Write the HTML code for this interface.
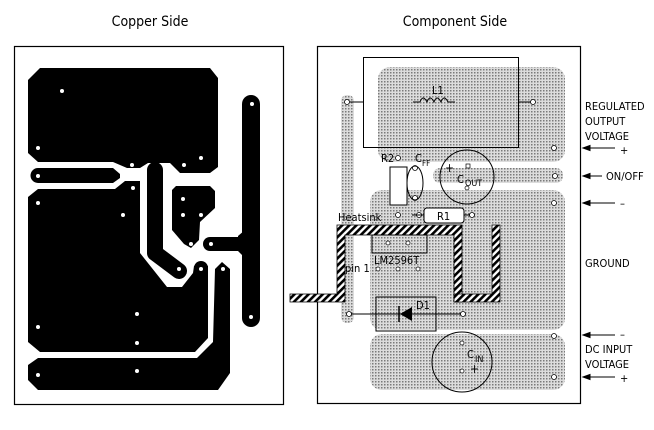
<!DOCTYPE html>
<html><head><meta charset="utf-8"><style>
html,body{margin:0;padding:0;background:#fff;width:654px;height:430px;overflow:hidden}
svg{display:block}
text{font-family:"DejaVu Sans Condensed","Liberation Sans",sans-serif}
</style></head><body>
<svg width="654" height="430" viewBox="0 0 654 430" xmlns="http://www.w3.org/2000/svg">
<defs>
<pattern id="dots" width="3" height="3" patternUnits="userSpaceOnUse">
<rect width="3" height="3" fill="#dcdcdc"/><rect x="0" y="0" width="1.5" height="1.5" fill="#7a7a7a"/>
</pattern>
<pattern id="hatch" width="5" height="5" patternUnits="userSpaceOnUse" patternTransform="rotate(45)">
<rect width="5" height="5" fill="#fff"/><rect width="2.6" height="5" fill="#000"/>
</pattern>
</defs>
<text x="150" y="26" font-size="14" text-anchor="middle">Copper Side</text>
<text x="455" y="26" font-size="14" text-anchor="middle">Component Side</text>

<rect x="14.5" y="46.5" width="269" height="358" fill="#fff" stroke="#000" stroke-width="1.2"/>
<g fill="#000">
<polygon points="40,68 210,68 218,78 218,167 210,173 180,173 170,163 148,163 140,168 127,168 113,162 38,162 28,153 28,80"/>
<path d="M38,168 L113,168 L120,174 L120,178 L113,183 L38,183 A7.5,7.5 0 0 1 38,168Z"/>
<polygon points="38,189 115,189 125,181 140,181 140,253 167,287 182,287 193,273 194,266 208,266 208,338 195,352 40,352 28,342 28,197"/>
<polyline points="155,170 155,253 179,271" fill="none" stroke="#000" stroke-width="16" stroke-linecap="round" stroke-linejoin="round"/>
<polyline points="201,268 201,272" fill="none" stroke="#000" stroke-width="14" stroke-linecap="round"/>
<polygon points="176,186 210,186 215,191 215,208 200,222 199,240 191,248 184,244 172,230 172,190"/>
<line x1="251" y1="104" x2="251" y2="318" stroke="#000" stroke-width="18" stroke-linecap="round"/>
<line x1="210" y1="244" x2="245" y2="244" stroke="#000" stroke-width="14" stroke-linecap="round"/>
<polygon points="238,236 245,230 245,258 238,251"/>
<polygon points="215,269 222,262 230,269 230,373 218,390 38,390 28,380 28,365 38,358 197,358 213,342"/>
</g>
<g fill="#fff">
<circle cx="62" cy="91" r="2"/><circle cx="38" cy="148" r="2"/><circle cx="132" cy="165" r="2"/><circle cx="184" cy="165" r="2"/><circle cx="201" cy="158" r="2"/>
<circle cx="38" cy="176" r="2"/><circle cx="133" cy="188" r="2"/><circle cx="38" cy="203" r="2"/><circle cx="123" cy="215" r="2"/>
<circle cx="183" cy="199" r="2"/><circle cx="183" cy="215" r="2"/><circle cx="201" cy="215" r="2"/><circle cx="191" cy="244" r="2"/>
<circle cx="211" cy="244" r="2"/><circle cx="252" cy="104" r="2"/><circle cx="251" cy="317" r="2"/>
<circle cx="179" cy="269" r="2"/><circle cx="201" cy="269" r="2"/><circle cx="223" cy="269" r="2"/>
<circle cx="137" cy="314" r="2"/><circle cx="38" cy="327" r="2"/><circle cx="137" cy="343" r="2"/><circle cx="137" cy="371" r="2"/><circle cx="38" cy="375" r="2"/>
</g>

<rect x="317.5" y="46.5" width="263" height="357" fill="#fff" stroke="#000" stroke-width="1.2"/>
<g fill="url(#dots)">
<rect x="378" y="67" width="187" height="95" rx="12"/>
<rect x="341" y="95" width="13" height="228" rx="6"/>
<rect x="433" y="168" width="130" height="15" rx="7"/>
<rect x="370" y="190" width="195" height="140" rx="12"/>
<rect x="370" y="334" width="195" height="56" rx="12"/>
</g>
<rect x="363.5" y="57.5" width="155" height="90" fill="none" stroke="#000"/>
<text x="432" y="94" font-size="11">L1</text>
<path d="M420,102 q3,-8 7,0 q3,-8 7,0 q3,-8 7,0 q3,-8 7,0 M413,102 h7 M448,102 h7" fill="none" stroke="#000"/>
<line x1="350" y1="102" x2="363" y2="102" stroke="#000"/><line x1="518" y1="102" x2="533" y2="102" stroke="#000"/>
<g fill="#fff" stroke="#000" stroke-width="0.8">
<circle cx="347" cy="102" r="2.5"/><circle cx="533" cy="102" r="2.5"/><circle cx="554" cy="148" r="2.5"/><circle cx="555" cy="176" r="2.5"/><circle cx="554" cy="203" r="2.5"/>
<circle cx="398" cy="158" r="2.5"/><circle cx="398" cy="215" r="2.5"/><circle cx="415" cy="168" r="2.5"/><circle cx="415" cy="198" r="2.5"/>
<circle cx="419" cy="215" r="2.5"/><circle cx="472" cy="215" r="2.5"/>
<circle cx="349" cy="314" r="2.5"/><circle cx="463" cy="314" r="2.5"/><circle cx="554" cy="336" r="2.5"/><circle cx="554" cy="377" r="2.5"/>
</g>
<circle cx="467" cy="177" r="27" fill="none" stroke="#000"/>
<text x="445" y="172" font-size="12">+</text>
<text x="457" y="183" font-size="11">C</text><text x="465" y="186" font-size="9">OUT</text>
<rect x="466" y="164" width="4" height="4" fill="#fff" stroke="#000" stroke-width="0.7"/>
<circle cx="467" cy="188" r="2" fill="#fff" stroke="#000" stroke-width="0.7"/>
<circle cx="462" cy="362" r="30" fill="none" stroke="#000"/>
<text x="467" y="358" font-size="11">C</text><text x="475" y="362" font-size="9">IN</text>
<text x="470" y="373" font-size="12">+</text>
<circle cx="462" cy="343" r="2" fill="#fff" stroke="#000" stroke-width="0.7"/>
<circle cx="462" cy="371" r="2" fill="#fff" stroke="#000" stroke-width="0.7"/>
<text x="381" y="162" font-size="11">R2</text>
<text x="415" y="162" font-size="11">C</text><text x="422" y="166" font-size="8">FF</text>
<rect x="390" y="167" width="17" height="38" fill="#fff" stroke="#000"/>
<ellipse cx="415" cy="183" rx="8" ry="17" fill="none" stroke="#000"/>
<rect x="424" y="208" width="40" height="15" rx="3" fill="#fff" stroke="#000"/>
<text x="437" y="220" font-size="11">R1</text>
<line x1="412" y1="215" x2="424" y2="215" stroke="#000"/><line x1="464" y1="215" x2="470" y2="215" stroke="#000"/>
<text x="338" y="221" font-size="11">Heatsink</text>
<g fill="url(#hatch)" stroke="#000" stroke-width="0.8">
<polygon points="337,225 462,225 462,302 454,302 454,235 345,235 345,302 290,302 290,294 337,294"/>
<polygon points="454,294 492,294 492,225 500,225 500,302 454,302"/>
</g>
<rect x="372" y="235" width="55" height="18" fill="none" stroke="#000"/>
<circle cx="388" cy="243" r="2" fill="#fff" stroke="#000" stroke-width="0.7"/><circle cx="408" cy="243" r="2" fill="#fff" stroke="#000" stroke-width="0.7"/>
<text x="374" y="264" font-size="11">LM2596T</text>
<text x="345" y="272" font-size="11">pin 1</text>
<circle cx="378" cy="269" r="2" fill="#fff" stroke="#000" stroke-width="0.7"/><circle cx="398" cy="269" r="2" fill="#fff" stroke="#000" stroke-width="0.7"/><circle cx="418" cy="269" r="2" fill="#fff" stroke="#000" stroke-width="0.7"/>
<rect x="376" y="297" width="60" height="34" fill="none" stroke="#000"/>
<line x1="351" y1="314" x2="461" y2="314" stroke="#000"/>
<polygon points="400,314 412,307 412,321" fill="#000"/><line x1="399" y1="306" x2="399" y2="322" stroke="#000" stroke-width="1.5"/>
<text x="416" y="309" font-size="11">D1</text>

<g font-size="11">
<text x="585" y="110">REGULATED</text>
<text x="585" y="125">OUTPUT</text>
<text x="585" y="140">VOLTAGE</text>
<text x="620" y="154">+</text>
<text x="606" y="180">ON/OFF</text>
<text x="620" y="207">–</text>
<text x="585" y="267">GROUND</text>
<text x="620" y="338">–</text>
<text x="585" y="353">DC INPUT</text>
<text x="585" y="368">VOLTAGE</text>
<text x="620" y="382">+</text>
</g>
<g stroke="#000" fill="#000">
<line x1="584" y1="148" x2="615" y2="148"/><polygon points="583,148 590,145.5 590,150.5"/>
<line x1="584" y1="176" x2="602" y2="176"/><polygon points="583,176 590,173.5 590,178.5"/>
<line x1="584" y1="203" x2="615" y2="203"/><polygon points="583,203 590,200.5 590,205.5"/>
<line x1="584" y1="335" x2="615" y2="335"/><polygon points="583,335 590,332.5 590,337.5"/>
<line x1="584" y1="377" x2="615" y2="377"/><polygon points="583,377 590,374.5 590,379.5"/>
</g>
</svg>
</body></html>
